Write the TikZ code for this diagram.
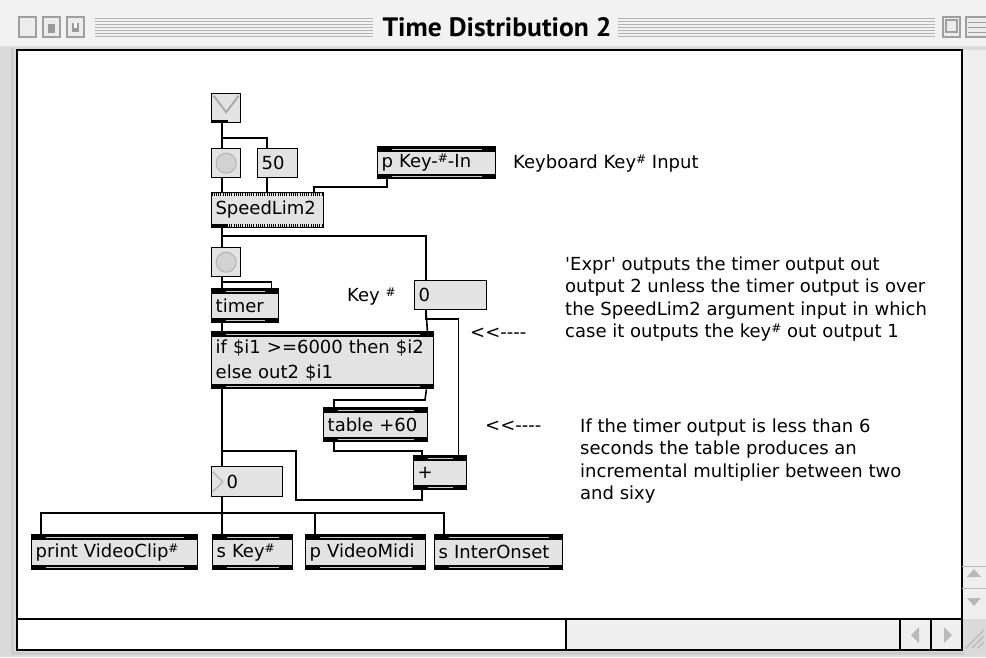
\documentclass[tikz,border=0pt]{standalone}
\usepackage{graphicx}
\usepackage{fontspec}
\setmainfont{DejaVu Sans}
\newfontfamily\titlefont{PT Sans}
\usetikzlibrary{positioning}
\usetikzlibrary{calc}

\definecolor{boxgray}{HTML}{E3E3E3}
\definecolor{chrome}{HTML}{DADADA}
\definecolor{barfill}{HTML}{EFEFEF}

% raised hash sign and the little arrow used in the notes
\newcommand{\hs}{\raisebox{5pt}{\fontsize{12}{12}\selectfont\#}}
\newcommand{\larr}{<\kern0pt<\kern0pt-\kern0pt-\kern0pt-\kern0pt-}

\begin{document}
\begin{tikzpicture}[x=1pt, y=-1pt,
    every node/.style={font=\fontsize{18}{22.5}\selectfont, inner sep=0pt},
    cord/.style={line width=1.6pt},
    note/.style={anchor=base west},
    numbox/.style={draw, line width=1.4pt, fill=boxgray, anchor=north west, inner xsep=4pt, inner ysep=0pt, align=left},
    objbox/.style={numbox, path picture={
        \fill[black] (path picture bounding box.north west) rectangle ([yshift=-5pt]path picture bounding box.north east);
        \fill[black] (path picture bounding box.south west) rectangle ([yshift=5pt]path picture bounding box.south east);
        \draw[gray!40, line width=1.2pt] ([xshift=14pt, yshift=-2.5pt]path picture bounding box.north west) -- ([xshift=-14pt, yshift=-2.5pt]path picture bounding box.north east);
        \draw[gray!40, line width=1.2pt] ([xshift=14pt, yshift=2.5pt]path picture bounding box.south west) -- ([xshift=-14pt, yshift=2.5pt]path picture bounding box.south east);
      }},
    speedbox/.style={numbox, line width=1pt, path picture={
        \draw[black, line width=3.5pt, dash pattern=on 1pt off 1.2pt] ([yshift=-2pt]path picture bounding box.north west) -- ([yshift=-2pt]path picture bounding box.north east);
        \draw[black, line width=3.5pt, dash pattern=on 1pt off 1.2pt] ([yshift=2pt]path picture bounding box.south west) -- ([yshift=2pt]path picture bounding box.south east);
        \fill[black] (path picture bounding box.south west) rectangle ([xshift=16pt, yshift=4pt]path picture bounding box.south west);
      }},
    bangbox/.style={numbox, minimum size=29pt, path picture={
        \draw[gray!60, fill=gray!35, line width=1pt] (path picture bounding box.center) circle (10pt);
      }},
    togbox/.style={numbox, minimum size=29pt, path picture={
        \draw[gray!65, line width=2pt] ([xshift=2pt, yshift=-2pt]path picture bounding box.north west) -- ([yshift=-4pt]path picture bounding box.center) -- ([xshift=-2pt, yshift=-2pt]path picture bounding box.north east);
        \fill[black] (path picture bounding box.south west) rectangle ([xshift=16pt, yshift=3pt]path picture bounding box.south west);
      }},
    gtbox/.style={path picture={
        \draw[gray!60, line width=1.2pt] ([xshift=1pt, yshift=-5pt]path picture bounding box.north west) -- ([xshift=11pt]path picture bounding box.west) -- ([xshift=1pt, yshift=5pt]path picture bounding box.south west);
      }}]

    \useasboundingbox (0,0) rectangle (986,657);

    % Window frame
    \fill[chrome] (0,0) rectangle (986,657);
    \fill[gray!10] (0,0) rectangle (986,46);
    \draw[gray!40, line width=3pt] (12,48) -- (12,653) -- (964,653);
    \fill[white] (17,50) rectangle (962,619);
    \fill[white] (17,619) rectangle (566,650);
    \fill[barfill] (566,619) rectangle (962,650);
    \fill[barfill] (962,50) rectangle (986,619);
    \draw[line width=1.5pt] (17,50) rectangle (962,650);
    \draw[line width=1.5pt] (17,619) -- (962,619);
    \foreach \sx in {566,900,931}
      \draw[line width=1.2pt] (\sx,619) -- (\sx,650);
    \fill[gray!55] (919,627) -- (911,635) -- (919,643) -- cycle;
    \fill[gray!55] (944,627) -- (952,635) -- (944,643) -- cycle;
    \draw[gray!55] (962,566) -- (986,566);
    \draw[gray!55] (962,588) -- (986,588);
    \fill[gray!55] (967,577) -- (974,569) -- (981,577) -- cycle;
    \fill[gray!55] (967,598) -- (974,606) -- (981,598) -- cycle;
    \foreach \k in {0,...,3}
      \draw[gray!50, line width=1.5pt] ({966+6*\k},648) -- ({984},{630+6*\k});

    % Title bar
    \foreach \bx in {19,43,67}
      \draw[gray!75, fill=gray!15, line width=1.3pt] (\bx,17) rectangle ++(17,20);
    \fill[gray!80] (48,24) rectangle (55,33);
    \fill[gray!80] (72,23) rectangle (79,32);
    \fill[white] (74,23) rectangle (77,28);
    \foreach \sy in {18,21,...,36} {
      \draw[gray!60, line width=1pt] (95,\sy) -- (373,\sy);
      \draw[gray!60, line width=1pt] (618,\sy) -- (935,\sy);
    }
    \draw[gray!75, fill=gray!15, line width=1.3pt] (943,17) rectangle (960,37);
    \draw[gray!75, line width=1.3pt] (946,20) rectangle (957,32);
    \draw[gray!75, fill=gray!15, line width=1.3pt] (966,17) rectangle (990,37);
    \foreach \sy in {22,27,32}
      \draw[gray!75, line width=1pt] (968,\sy) -- (986,\sy);
    \node (title) at (497,27) {\resizebox{229pt}{19pt}{\titlefont\bfseries Time Distribution 2}};

    % Patch objects
    \node[togbox] (tog) at (211,93) {};
    \node[bangbox] (bangA) at (211,148) {};
    \node[numbox, text width=32pt, minimum height=29pt] (numA) at (257,148) {50};
    \node[objbox, text width=110pt, minimum height=32pt] (pkey) at (377,146) {p Key-\hs-In};
    \node[speedbox, text width=104pt, minimum height=35pt] (speed) at (211,192) {SpeedLim2};
    \node[bangbox] (bangB) at (211,247) {};
    \node[objbox, text width=59pt, minimum height=34pt] (timer) at (211,288) {timer};
    \node[numbox, text width=64pt, minimum height=29pt] (keynum) at (414,280) {0};
    \node[objbox, text width=214pt, minimum height=57pt, font=\fontsize{18}{25}\selectfont] (expr) at (211,331) {if \$i1 >=6000 then \$i2\\else out2 \$i1};
    \node[objbox, text width=96pt, minimum height=34pt] (table) at (323,407) {table +60};
    \node[objbox, text width=45pt, minimum height=34pt] (plus) at (413,455) {+};
    \node[numbox, gtbox, text width=63pt, minimum height=30pt] (gt0) at (211,466) {\hspace*{11pt}0};

    % Senders at the bottom
    \node[objbox, text width=158pt, minimum height=35pt] (prt) at (31,534) {print VideoClip\hs};
    \node[objbox, text width=72pt, minimum height=35pt] (skey) at (212,534) {s Key\hs};
    \node[objbox, text width=112pt, minimum height=35pt] (pvm) at (305,534) {p VideoMidi};
    \node[objbox, text width=120pt, minimum height=35pt] (sio) at (434,534) {s InterOnset};

    % Patch cords
    \draw[cord] ([xshift=11pt]tog.south west) -- ([xshift=11pt]bangA.north west);
    \draw[cord] ([xshift=11pt]tog.south west) -- (222,138) -| ([xshift=10pt]numA.north west);
    \draw[cord] ([xshift=11pt]bangA.south west) -- ([xshift=11pt]speed.north west);
    \draw[cord] ([xshift=10pt]numA.south west) -- ([xshift=56pt]speed.north west);
    \draw[cord] ([xshift=10pt]pkey.south west) -- (387,187) -| ([xshift=-10pt]speed.north east);
    \draw[cord] ([xshift=11pt]speed.south west) -- ([xshift=11pt]bangB.north west);
    \draw[cord] ([xshift=11pt]speed.south west) -- (222,236) -| ([xshift=12pt]keynum.north west);
    \draw[cord] ([xshift=11pt]bangB.south west) -- ([xshift=11pt]timer.north west);
    \draw[cord] ([xshift=11pt]bangB.south west) -- (222,282) -| ([xshift=-8pt]timer.north east);
    \draw[cord] ([xshift=11pt]timer.south west) -- ([xshift=11pt]expr.north west);
    \draw[cord] ([xshift=12pt]keynum.south west) -- ([xshift=-7pt]expr.north east);
    \draw[cord] ([xshift=12pt]keynum.south west) -- (426,319) -| ([xshift=-9pt]plus.north east);
    \draw[cord] ([xshift=11pt]expr.south west) -- ([xshift=11pt]gt0.north west);
    \draw[cord] ([xshift=-8pt]expr.south east) -- (425,400) -| ([xshift=11pt]table.north west);
    \draw[cord] ([xshift=11pt]table.south west) -- (334,451) -| ([xshift=9pt]plus.north west);
    \draw[cord] ([xshift=9pt]plus.south west) -- (422,500) -- (296,500) -- (296,451) -- (222,451) -- ([xshift=11pt]gt0.north west);
    \foreach \n in {prt,skey,pvm,sio}
      \draw[cord] ([xshift=11pt]gt0.south west) -- (222,513) -| ([xshift=10pt]\n.north west);

    % Comments
    \node[note] (keyin) at (513,168) {Keyboard Key\hs\ Input};
    \node[note] (keylbl) at (347,301) {Key \hs};
    \foreach \txt [count=\i] in {\textquotesingle Expr\textquotesingle\ outputs the timer output out,
        output 2 unless the timer output is over,
        the SpeedLim2 argument input in which,
        case it outputs the key\hs\ out output 1}
      \node[note] (exprnote\i) at (565,{270+22.5*(\i-1)}) {\txt};
    \foreach \txt [count=\i] in {If the timer output is less than 6,
        seconds the table produces an,
        incremental multiplier between two,
        and sixy}
      \node[note] (tabnote\i) at (580,{432+22.5*(\i-1)}) {\txt};
    \node[note] (arrA) at (470,338) {\larr};
    \node[note] (arrB) at (485,431) {\larr};

\end{tikzpicture}
\end{document}
